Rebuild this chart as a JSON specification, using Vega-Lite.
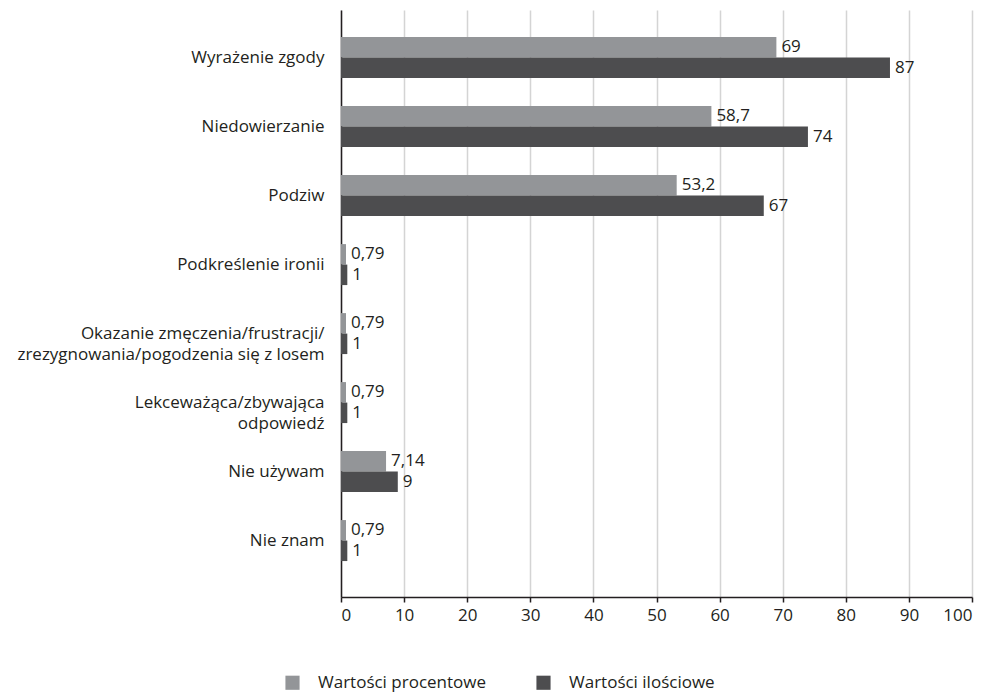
{
  "$schema": "https://vega.github.io/schema/vega-lite/v6.json",
  "width": 631,
  "height": 587,
  "autosize": {"type": "none"},
  "padding": {"left": 341, "top": 10, "right": 16, "bottom": 95},
  "background": "white",
  "config": {
    "locale": {"number": {"decimal": ",", "thousands": " ", "grouping": [3], "currency": ["", " zł"]}},
    "font": "Open Sans",
    "view": {"stroke": null},
    "text": {"font": "Open Sans"}
  },
  "data": {
    "values": [
      {"kategoria": "Wyrażenie zgody", "seria": "Wartości procentowe", "wartosc": 69},
      {"kategoria": "Wyrażenie zgody", "seria": "Wartości ilościowe", "wartosc": 87},
      {"kategoria": "Niedowierzanie", "seria": "Wartości procentowe", "wartosc": 58.7},
      {"kategoria": "Niedowierzanie", "seria": "Wartości ilościowe", "wartosc": 74},
      {"kategoria": "Podziw", "seria": "Wartości procentowe", "wartosc": 53.2},
      {"kategoria": "Podziw", "seria": "Wartości ilościowe", "wartosc": 67},
      {"kategoria": "Podkreślenie ironii", "seria": "Wartości procentowe", "wartosc": 0.79},
      {"kategoria": "Podkreślenie ironii", "seria": "Wartości ilościowe", "wartosc": 1},
      {"kategoria": "Okazanie zmęczenia/frustracji/|zrezygnowania/pogodzenia się z losem", "seria": "Wartości procentowe", "wartosc": 0.79},
      {"kategoria": "Okazanie zmęczenia/frustracji/|zrezygnowania/pogodzenia się z losem", "seria": "Wartości ilościowe", "wartosc": 1},
      {"kategoria": "Lekceważąca/zbywająca|odpowiedź", "seria": "Wartości procentowe", "wartosc": 0.79},
      {"kategoria": "Lekceważąca/zbywająca|odpowiedź", "seria": "Wartości ilościowe", "wartosc": 1},
      {"kategoria": "Nie używam", "seria": "Wartości procentowe", "wartosc": 7.14},
      {"kategoria": "Nie używam", "seria": "Wartości ilościowe", "wartosc": 9},
      {"kategoria": "Nie znam", "seria": "Wartości procentowe", "wartosc": 0.79},
      {"kategoria": "Nie znam", "seria": "Wartości ilościowe", "wartosc": 1}
    ]
  },
  "encoding": {
    "y": {
      "field": "kategoria",
      "type": "nominal",
      "sort": null,
      "scale": {"paddingInner": 0.406, "paddingOuter": 0.457, "align": 0.43},
      "axis": {
        "title": null,
        "labelExpr": "split(datum.label, '|')",
        "ticks": false,
        "domain": true,
        "domainColor": "#231f20",
        "domainWidth": 1.5,
        "labelPadding": 17,
        "labelFontSize": 17,
        "labelColor": "#231f20",
        "labelLineHeight": 21,
        "labelLimit": 400,
        "labelFont": "Open Sans"
      }
    },
    "yOffset": {
      "field": "seria",
      "type": "nominal",
      "sort": ["Wartości procentowe", "Wartości ilościowe"],
      "scale": {"paddingInner": 0, "paddingOuter": 0}
    },
    "x": {
      "field": "wartosc",
      "type": "quantitative",
      "scale": {"domain": [0, 100], "nice": false},
      "axis": {
        "title": null,
        "values": [0, 10, 20, 30, 40, 50, 60, 70, 80, 90, 100],
        "grid": true,
        "gridColor": "#d4d4d4",
        "gridWidth": 1.5,
        "domainColor": "#231f20",
        "domainWidth": 1.5,
        "tickColor": "#231f20",
        "tickWidth": 1.5,
        "tickSize": 5,
        "labelPadding": 5,
        "labelFontSize": 17,
        "labelColor": "#231f20",
        "labelFont": "Open Sans"
      }
    }
  },
  "layer": [
    {
      "mark": {"type": "bar"},
      "encoding": {
        "color": {
          "field": "seria",
          "type": "nominal",
          "sort": ["Wartości procentowe", "Wartości ilościowe"],
          "scale": {"range": ["#939598", "#4d4d4f"]},
          "legend": {
            "title": null,
            "orient": "none",
            "direction": "horizontal",
            "legendX": -57,
            "legendY": 664,
            "symbolType": "square",
            "symbolSize": 200,
            "symbolStrokeWidth": 0,
            "symbolOpacity": 1,
            "labelFontSize": 17,
            "labelColor": "#231f20",
            "labelOffset": 17,
            "labelLimit": 300,
            "columnPadding": 48,
            "labelFont": "Open Sans"
          }
        }
      }
    },
    {
      "mark": {"type": "text", "align": "left", "baseline": "middle", "dx": 5, "fontSize": 17, "color": "#231f20"},
      "encoding": {
        "text": {"field": "wartosc", "type": "quantitative", "format": "~g"}
      }
    }
  ]
}
